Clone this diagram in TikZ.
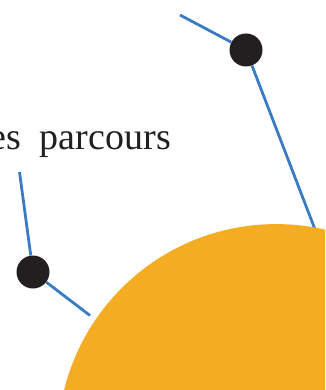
\documentclass[tikz,border=0pt]{standalone}
\usepackage{fontspec}
\setmainfont{Liberation Serif}
\definecolor{linkblue}{HTML}{3A7BC6}
\definecolor{dotblack}{HTML}{231F20}
\definecolor{sunorange}{HTML}{F4AC22}
\begin{document}
\begin{tikzpicture}[x=1pt,y=-1pt,
  link/.style={draw=linkblue,line width=2.8pt},
  hub/.style={circle,fill=dotblack,minimum size=33pt,inner sep=0pt},
  sun/.style={circle,fill=sunorange,minimum size=437pt,inner sep=0pt},
  caption/.style={font=\fontsize{38}{40}\selectfont,text=dotblack,inner sep=0pt}]
\useasboundingbox (0,0) rectangle (325,390);
\clip (0,0) rectangle (325,390);
\node[caption,anchor=base east] (txt) at (171,149.5) {es\hspace{19pt}parcours};
\node[hub] (d1) at (246,50) {};
\node[hub] (d2) at (33,272) {};
\coordinate (t0) at (180,15);
\coordinate (t1) at (316,232);
\coordinate (l0) at (19.5,172);
\coordinate (l1) at (90,315.5);
\draw[link] (t0) -- (d1);
\draw[link] (d1) -- (t1);
\draw[link] (l0) -- (d2);
\draw[link] (d2) -- (l1);
\node[sun] (s) at (276.2,442.6) {};
\end{tikzpicture}
\end{document}
